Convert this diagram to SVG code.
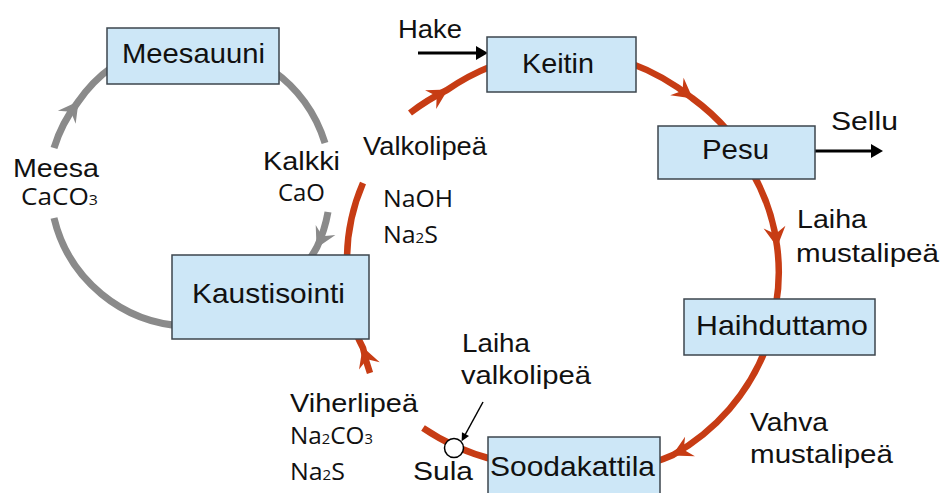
<svg xmlns="http://www.w3.org/2000/svg" width="946" height="493" viewBox="0 0 946 493">
<defs>
<style>
.box{fill:#cde7f7;stroke:#3d464d;stroke-width:1.5}
.lbl{font-family:"Liberation Sans",Arial,sans-serif;fill:#111}
.bl{font-size:28px}
.sl{font-size:26px}
.chem{font-family:"Open Sans","Liberation Sans",sans-serif;font-size:23px;fill:#111}
.sub{font-size:14px}
.red{fill:none;stroke:#c73c14;stroke-width:6.5;marker-mid:url(#ar)}
.gray{fill:none;stroke:#8a8a8a;stroke-width:7;marker-mid:url(#ag)}
.blk{fill:none;stroke:#000;stroke-width:3;marker-end:url(#ab)}
</style>
<marker id="ar" markerUnits="userSpaceOnUse" orient="auto" overflow="visible" markerWidth="1" markerHeight="1">
<path d="M1,0 L-19,-11 L-12,0 L-19,11 Z" fill="#c73c14"/>
</marker>
<marker id="ag" markerUnits="userSpaceOnUse" orient="auto" overflow="visible" markerWidth="1" markerHeight="1">
<path d="M1,0 L-19,-11 L-12,0 L-19,11 Z" fill="#8a8a8a"/>
</marker>
<marker id="ab" markerUnits="userSpaceOnUse" orient="auto" overflow="visible" markerWidth="1" markerHeight="1">
<path d="M0,-7 L12,0 L0,7 Z" fill="#000"/>
</marker>
<marker id="abs" markerUnits="userSpaceOnUse" orient="auto" overflow="visible" markerWidth="1" markerHeight="1">
<path d="M-1,-4 L7,0 L-1,4 Z" fill="#000"/>
</marker>
</defs>
<rect width="946" height="493" fill="#fff"/>
<g id="connectors">
<path class="red" d="M410,113 A218 205 0 0 1 447,90 A218 205 0 0 1 492,66"/>
<path class="red" d="M630,63 A218 205 0 0 1 692,98 A218 205 0 0 1 728,131"/>
<path class="red" d="M752,172 A218 205 0 0 1 777,246 A218 205 0 0 1 776,305"/>
<path class="red" d="M766,348 A218 205 0 0 1 673,455 A218 205 0 0 1 652,463"/>
<path class="red" d="M495,460 A218 205 0 0 1 423,428" style="marker:none"/>
<path class="red" d="M370,373 A218 205 0 0 1 363,348 A218 205 0 0 1 356,333"/>
<path class="red" d="M347,262 A218 205 0 0 1 363,183" style="marker:none"/>
<path class="gray" d="M272,70 A141 141 0 0 1 325,143" style="marker:none"/>
<path class="gray" d="M328,212 A141 141 0 0 1 317,247 A141 141 0 0 1 309,260"/>
<path class="gray" d="M185,326 A141 141 0 0 1 54,218" style="marker:none"/>
<path class="gray" d="M54,148 A141 141 0 0 1 78,102 A141 141 0 0 1 112,67"/>
<path class="blk" d="M418,53 H476"/>
<path class="blk" d="M815,151 H871"/>
<path d="M483,402 L465,435" fill="none" stroke="#000" stroke-width="1.5" marker-end="url(#abs)"/>
</g>
<g id="sula">
<circle cx="454" cy="448" r="9.5" fill="#fff" stroke="#000" stroke-width="1.5"/>
</g>
<g id="meesauuni">
<rect class="box" x="107" y="28" width="172" height="56"/>
<text class="lbl bl" x="122" y="63" textLength="143" lengthAdjust="spacingAndGlyphs">Meesauuni</text>
</g>
<g id="keitin">
<rect class="box" x="487" y="37" width="149" height="55"/>
<text class="lbl bl" x="522" y="73" textLength="72" lengthAdjust="spacingAndGlyphs">Keitin</text>
</g>
<g id="pesu">
<rect class="box" x="658" y="126" width="157" height="53"/>
<text class="lbl bl" x="702" y="159" textLength="67" lengthAdjust="spacingAndGlyphs">Pesu</text>
</g>
<g id="haihduttamo">
<rect class="box" x="684" y="299" width="191" height="56"/>
<text class="lbl bl" x="696" y="335" textLength="172" lengthAdjust="spacingAndGlyphs">Haihduttamo</text>
</g>
<g id="soodakattila">
<rect class="box" x="488" y="437" width="172" height="70"/>
<text class="lbl bl" x="490" y="476" textLength="165" lengthAdjust="spacingAndGlyphs">Soodakattila</text>
</g>
<g id="kaustisointi">
<rect class="box" x="172" y="255" width="197" height="84"/>
<text class="lbl bl" x="192" y="303" textLength="153" lengthAdjust="spacingAndGlyphs">Kaustisointi</text>
</g>
<g id="labels">
<text class="lbl sl" x="398" y="38" textLength="64" lengthAdjust="spacingAndGlyphs">Hake</text>
<text class="lbl sl" x="831" y="130" textLength="67" lengthAdjust="spacingAndGlyphs">Sellu</text>
<text class="lbl sl" x="797" y="228" textLength="70" lengthAdjust="spacingAndGlyphs">Laiha</text>
<text class="lbl sl" x="796" y="262" textLength="143" lengthAdjust="spacingAndGlyphs">mustalipeä</text>
<text class="lbl sl" x="363" y="155" textLength="124" lengthAdjust="spacingAndGlyphs">Valkolipeä</text>
<text class="lbl sl" x="13" y="177" textLength="86" lengthAdjust="spacingAndGlyphs">Meesa</text>
<text class="lbl sl" x="263" y="170" textLength="77" lengthAdjust="spacingAndGlyphs">Kalkki</text>
<text class="lbl sl" x="750" y="431" textLength="78" lengthAdjust="spacingAndGlyphs">Vahva</text>
<text class="lbl sl" x="750" y="463" textLength="143" lengthAdjust="spacingAndGlyphs">mustalipeä</text>
<text class="lbl sl" x="462" y="352" textLength="68" lengthAdjust="spacingAndGlyphs">Laiha</text>
<text class="lbl sl" x="461" y="384" textLength="130" lengthAdjust="spacingAndGlyphs">valkolipeä</text>
<text class="lbl sl" x="290" y="412" textLength="128" lengthAdjust="spacingAndGlyphs">Viherlipeä</text>
<text class="lbl sl" x="413" y="480" textLength="60" lengthAdjust="spacingAndGlyphs">Sula</text>
<text class="chem" x="21" y="205" textLength="77" lengthAdjust="spacingAndGlyphs">CaCO<tspan class="sub">3</tspan></text>
<text class="chem" x="278" y="201" textLength="47" lengthAdjust="spacingAndGlyphs">CaO</text>
<text class="chem" x="383" y="207" textLength="70" lengthAdjust="spacingAndGlyphs">NaOH</text>
<text class="chem" x="383" y="243" textLength="55" lengthAdjust="spacingAndGlyphs">Na<tspan class="sub">2</tspan>S</text>
<text class="chem" x="290" y="444" textLength="83" lengthAdjust="spacingAndGlyphs">Na<tspan class="sub">2</tspan>CO<tspan class="sub">3</tspan></text>
<text class="chem" x="290" y="480" textLength="55" lengthAdjust="spacingAndGlyphs">Na<tspan class="sub">2</tspan>S</text>
</g>
</svg>
